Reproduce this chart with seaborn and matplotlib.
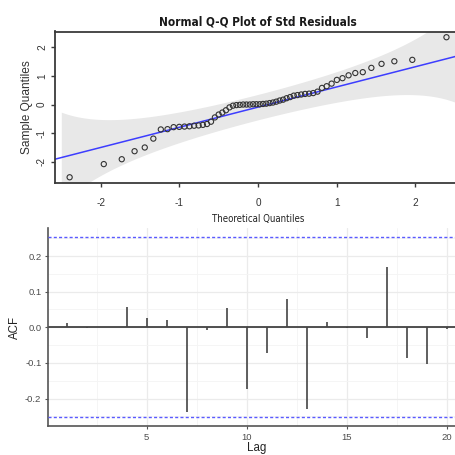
import numpy as np
import pandas as pd
import matplotlib
matplotlib.use("Agg")
import matplotlib.pyplot as plt
from matplotlib import font_manager
import seaborn as sns
from statistics import NormalDist

# ---------------- data ----------------
# standardized residuals (sorted)
std_resid = [-2.54, -2.08, -1.91, -1.63, -1.50, -1.19, -0.87, -0.86, -0.79, -0.78,
             -0.77, -0.76, -0.74, -0.73, -0.71, -0.68, -0.60, -0.45, -0.35, -0.28,
             -0.20, -0.10, -0.04, -0.02, -0.01, 0.00, 0.00, 0.00, 0.01, 0.01,
             0.01, 0.02, 0.03, 0.05, 0.07, 0.10, 0.14, 0.17, 0.22, 0.26,
             0.31, 0.33, 0.35, 0.37, 0.38, 0.40, 0.45, 0.58, 0.64, 0.73,
             0.86, 0.92, 1.02, 1.10, 1.13, 1.28, 1.42, 1.51, 1.56, 2.35]
line_intercept = -0.09
line_slope = 0.705
band_scale = 1.4
conf_z = 1.96

acf_lags = list(range(1, 21))
acf_values = [0.011, -0.002, 0.001, 0.058, 0.027, 0.020, -0.237, -0.008, 0.055, -0.174,
              -0.073, 0.079, -0.229, 0.016, -0.003, -0.031, 0.169, -0.087, -0.103, -0.005]
n_obs = 60

qq_xticks = [-2, -1, 0, 1, 2]
qq_yticks = [-2, -1, 0, 1, 2]
acf_xticks = [5, 10, 15, 20]
acf_yticks = [-0.2, -0.1, 0.0, 0.1, 0.2]
acf_ytick_labels = ["-0.2", "-0.1", "0.0", "0.1", "0.2"]

# ---------------- style ----------------
sns.set_theme(style="white")
plt.rcParams["font.family"] = ["Liberation Sans", "DejaVu Sans"]
plt.rcParams["axes.unicode_minus"] = False

# pick a condensed face for the squeezed base-R texts; (title size, xlabel size)
cond_props = None
sizes = (8.8, 7.2)
for fam, stretch, sz in [("Liberation Sans Narrow", "normal", (10.6, 8.4)),
                         ("Arial Narrow", "normal", (10.6, 8.4)),
                         ("DejaVu Sans", "condensed", (8.5, 6.9))]:
    try:
        fp = font_manager.FontProperties(family=fam, stretch=stretch)
        path = font_manager.findfont(fp, fallback_to_default=False)
        low = path.lower()
        if "narrow" in low or "condensed" in low:
            cond_props = dict(family=fam, fontstretch=stretch)
            sizes = sz
            break
    except Exception:
        pass
if cond_props is None:
    cond_props = dict(family=["Liberation Sans", "DejaVu Sans"])

W, H = 456, 455
fig = plt.figure(figsize=(W / 100, H / 100), dpi=100)
fig.patch.set_facecolor("white")


def rect(l, t, r, b):
    return [l / W, 1 - b / H, (r - l) / W, (b - t) / H]


# ---------------- Q-Q plot ----------------
ax1 = fig.add_axes(rect(54.6, 31.5, 461.5, 183))
nd = NormalDist()
n = len(std_resid)
sample = np.sort(np.array(std_resid))
probs = (np.arange(1, n + 1) - 0.5) / n
theo = np.array([nd.inv_cdf(p) for p in probs])
qq = pd.DataFrame({"theoretical": theo, "sample": sample})

gq = np.linspace(-2.5, 2.5, 300)
gp = np.array([nd.cdf(q) for q in gq])
gd = np.array([nd.pdf(q) for q in gq])
fit = line_intercept + line_slope * gq
half = conf_z * band_scale * np.sqrt(gp * (1 - gp) / n) / gd
ax1.fill_between(gq, fit - half, fit + half, color="#e8e8e8", lw=0, zorder=1)
ax1.axline((0, line_intercept), slope=line_slope, color="#3d3dff", lw=1.1, zorder=2)
sns.scatterplot(data=qq, x="theoretical", y="sample", ax=ax1, marker="o", s=14,
                facecolor="none", edgecolor="#333333", linewidth=0.8, zorder=3)

ax1.set_xlim(-2.585, 2.585)
ax1.set_ylim(-2.74, 2.55)
ax1.set_xticks(qq_xticks)
ax1.set_yticks(qq_yticks)
ax1.set_xticklabels([str(v) for v in qq_xticks], fontsize=7.2, color="#333333")
ax1.set_yticklabels([str(v) for v in qq_yticks], fontsize=7.2, color="#333333",
                    rotation=90, va="center")
for s in ax1.spines.values():
    s.set_color("#3a3a3a")
    s.set_linewidth(1.3)
ax1.tick_params(axis="x", direction="out", length=3, width=1, color="#3a3a3a", pad=7.5, bottom=True)
ax1.tick_params(axis="y", direction="out", length=3, width=1, color="#3a3a3a", pad=2.5, left=True)
ax1.set_xlabel("Theoretical Quantiles", fontsize=sizes[1], color="#222222",
               labelpad=4.5, **cond_props)
ax1.set_ylabel("Sample Quantiles", fontsize=8.6, color="#333333", labelpad=3)
ax1.set_title("Normal Q-Q Plot of Std Residuals", fontweight="bold",
              fontsize=sizes[0], color="#1a1a1a", pad=4.5, **cond_props)

# ---------------- ACF plot ----------------
ax2 = fig.add_axes(rect(47.7, 228.3, 465.7, 426.3))
acf_df = pd.DataFrame({"lag": acf_lags, "acf": acf_values})
conf = conf_z / np.sqrt(n_obs)

ax2.set_xlim(0.05, 20.95)
ax2.set_ylim(-0.278, 0.278)
ax2.set_xticks(acf_xticks)
ax2.set_xticks([2.5, 7.5, 12.5, 17.5], minor=True)
ax2.set_yticks(acf_yticks)
ax2.set_yticks([-0.25, -0.15, -0.05, 0.05, 0.15, 0.25], minor=True)
ax2.set_yticklabels(acf_ytick_labels)
ax2.grid(which="major", color="#ebebeb", lw=0.9)
ax2.grid(which="minor", color="#f4f4f4", lw=0.6)
ax2.set_axisbelow(True)

ax2.axhline(0, color="#333333", lw=1.2, zorder=2)
ax2.vlines(acf_df["lag"], 0, acf_df["acf"], color="#444444", lw=1.2, zorder=3)
sns.lineplot(x=[0.05, 20.95], y=[conf, conf], ax=ax2, color="#5a5aff", lw=1.0,
             linestyle=(0, (2.2, 1.6)), zorder=4)
sns.lineplot(x=[0.05, 20.95], y=[-conf, -conf], ax=ax2, color="#5a5aff", lw=1.0,
             linestyle=(0, (2.2, 1.6)), zorder=4)

for side in ["top", "right"]:
    ax2.spines[side].set_visible(False)
for side in ["left", "bottom"]:
    ax2.spines[side].set_color("#555555")
    ax2.spines[side].set_linewidth(1.2)
ax2.tick_params(axis="both", which="major", direction="out", length=2.5, width=0.8,
                color="#555555", labelsize=6.8, labelcolor="#4d4d4d", pad=2,
                bottom=True, left=True)
ax2.tick_params(axis="both", which="minor", length=0)
ax2.set_xlabel("Lag", fontsize=8.3, color="#222222", labelpad=0.5)
ax2.set_ylabel("ACF", fontsize=8.3, color="#222222", labelpad=3)

fig.savefig("out.png", dpi=100, facecolor="white")
